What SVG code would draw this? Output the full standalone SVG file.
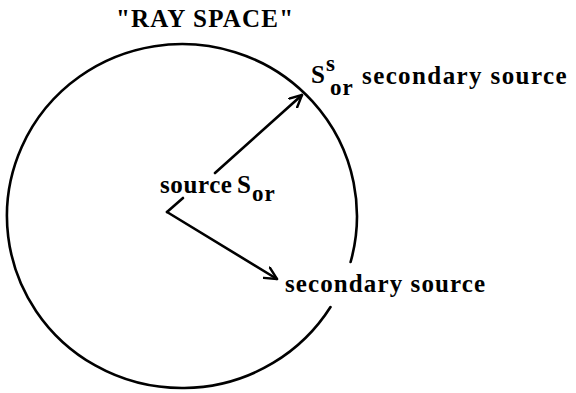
<svg xmlns="http://www.w3.org/2000/svg" width="576" height="393" viewBox="0 0 576 393">
<defs>
<style>
.t { fill: #000; font-weight: bold; font-family: 'Liberation Serif', 'Times New Roman', serif; }
.lbl { font-size: 25px; }
.ttl { font-size: 25px; }
.sub { font-size: 23px; }
.ln { fill: none; stroke: #000; stroke-width: 2.6; stroke-linecap: round; stroke-linejoin: round; }
</style>
<marker id="arr" viewBox="0 0 14 14" refX="13" refY="7" markerWidth="14" markerHeight="14" markerUnits="userSpaceOnUse" orient="auto">
<path d="M1,1 L13,7 L1,13" fill="none" stroke="#000" stroke-width="2.4" stroke-linecap="round" stroke-linejoin="round"/>
</marker>
</defs>
<rect width="576" height="393" fill="#fff"/>
<g id="title"><text class="t ttl" x="116" y="27" letter-spacing="1.2">"RAY SPACE"</text></g>
<g id="ray-space"><path class="ln" d="M330.5,307 A175,172 0 1 1 350.6,262"/></g>
<g id="source"><text class="t lbl" x="160" y="193" letter-spacing="0.6">source</text><text class="t lbl" x="237" y="193">S</text><text class="t sub" x="252" y="201" letter-spacing="1">or</text></g>
<g id="secondary-source-s"><text class="t lbl" x="311" y="83">S</text><text class="t sub" x="326" y="71" font-size="19">s</text><text class="t sub" x="330" y="95" letter-spacing="1">or</text><text class="t lbl" x="362" y="84" letter-spacing="1.4">secondary source</text></g>
<g id="secondary-source"><text class="t lbl" x="285" y="292" letter-spacing="1.1">secondary source</text></g>
<g id="connectors">
<path class="ln" d="M167,212 L183,198"/>
<path class="ln" d="M215,173 L302,95" marker-end="url(#arr)"/>
<path class="ln" d="M167,212 L277,279" marker-end="url(#arr)"/>
</g>
</svg>
